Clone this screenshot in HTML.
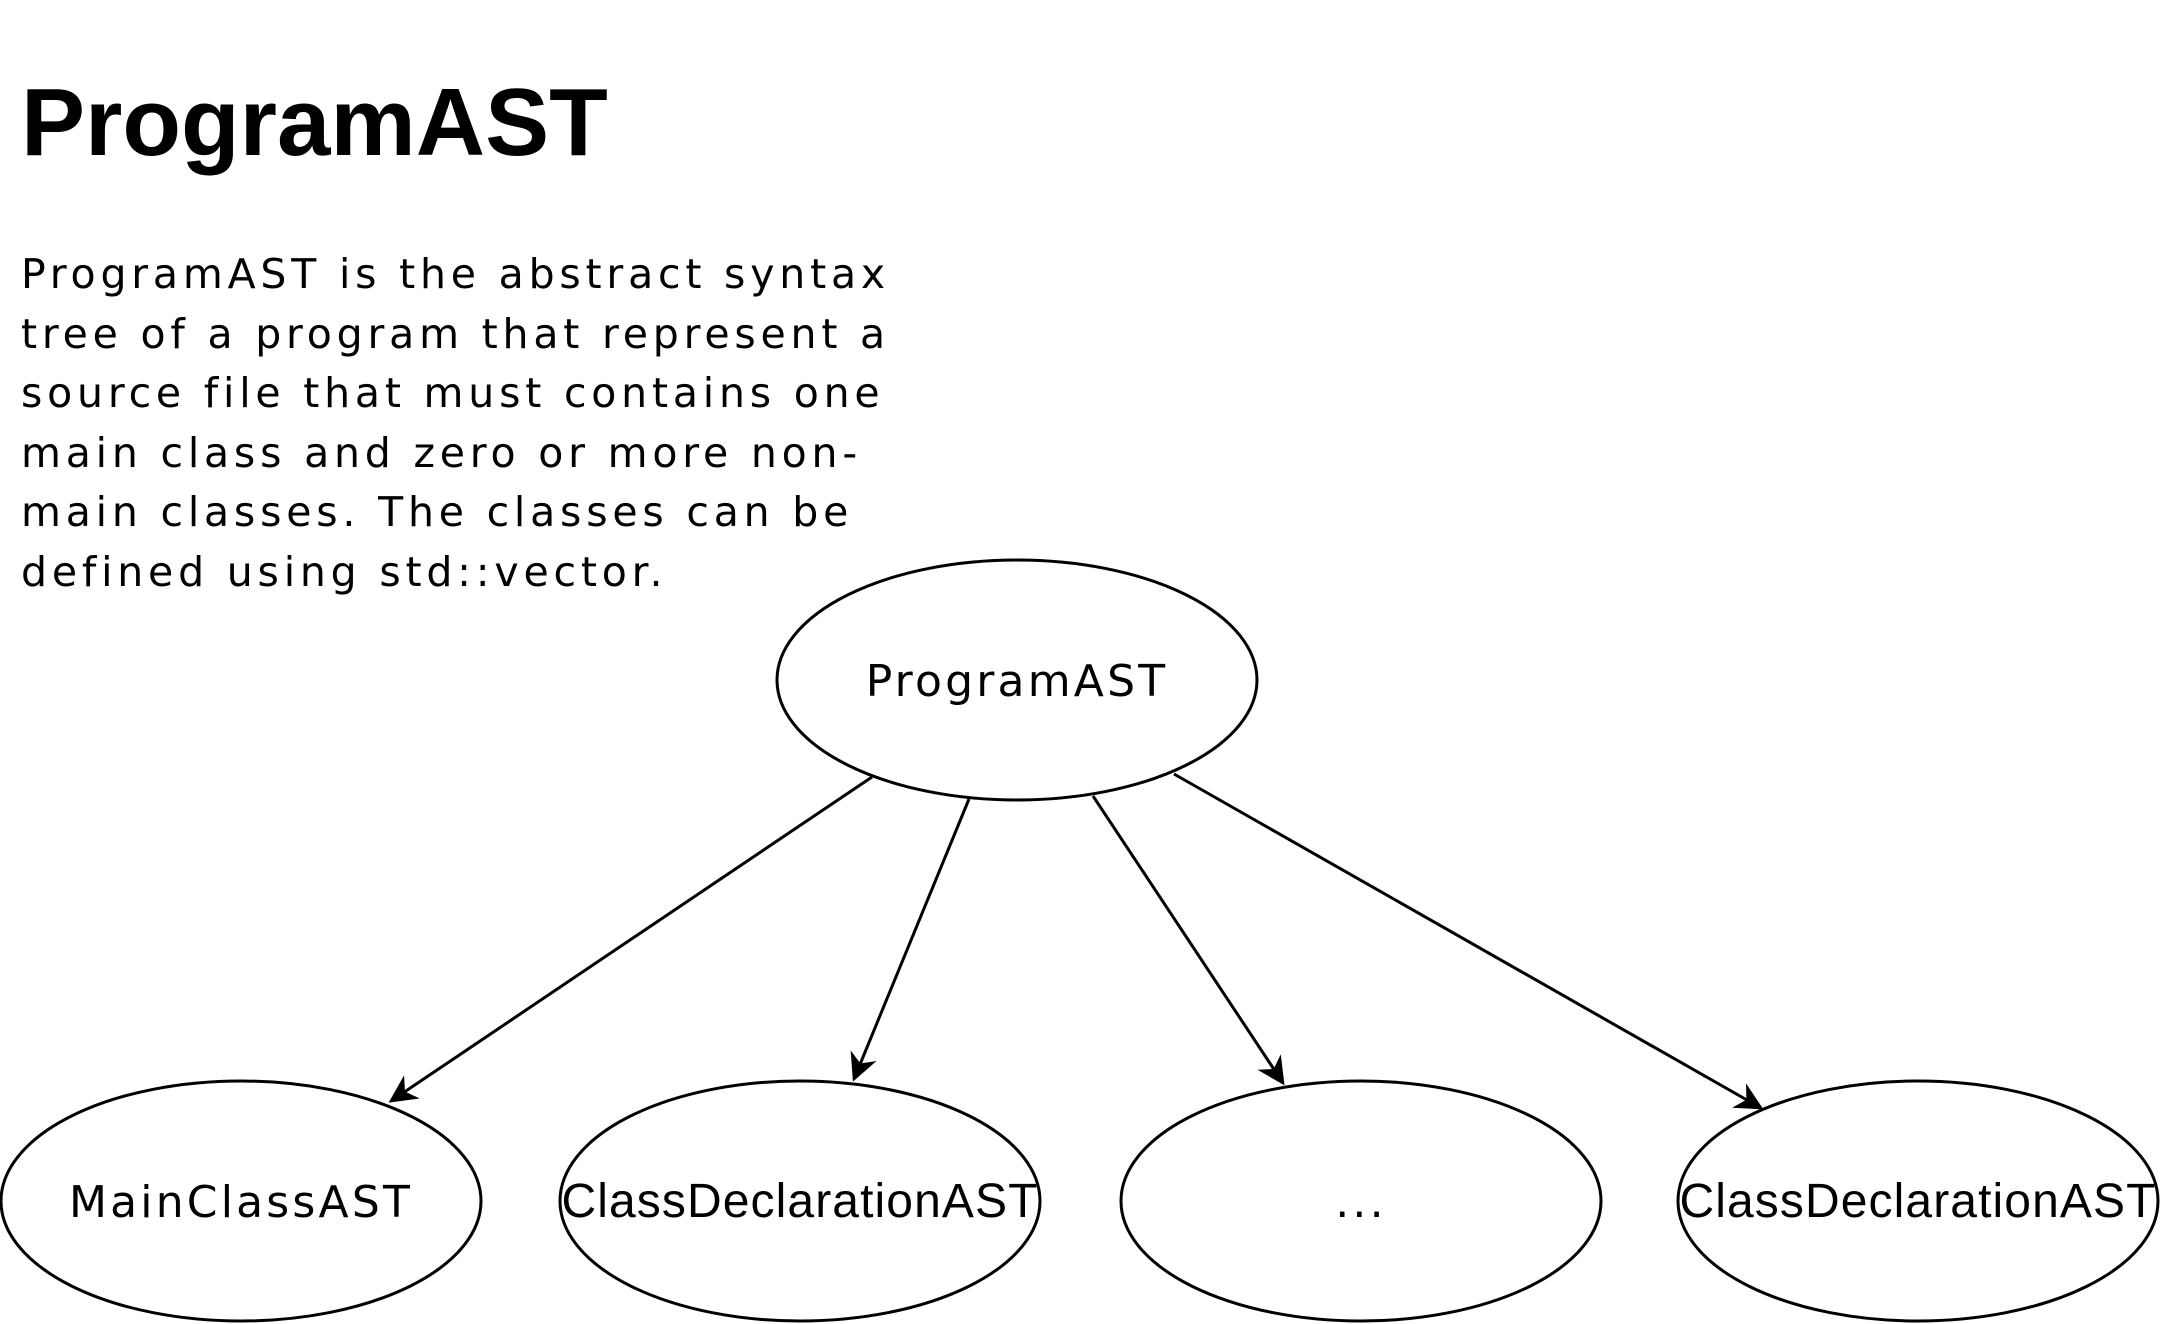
<!DOCTYPE html>
<html><head><meta charset="utf-8"><style>
html,body{margin:0;padding:0;background:#fff;}
body{width:2164px;height:1324px;overflow:hidden;position:relative;}
h1{position:absolute;left:21px;top:68px;margin:0;font:bold 96px "Liberation Sans",sans-serif;color:#000;}
p{position:absolute;left:21px;top:245px;margin:0;width:1000px;font:41px/59.6px "DejaVu Sans",sans-serif;color:#000;letter-spacing:4.8px;}
svg{position:absolute;left:0;top:0;}
</style></head><body>
<h1>ProgramAST</h1>
<p>ProgramAST is the abstract syntax<br>tree of a program that represent a<br>source file that must contains one<br>main class and zero or more non-<br>main classes. The classes can be<br>defined using std::vector.</p>
<svg width="2164" height="1324" viewBox="0 0 2164 1324">
<defs><marker id="a" markerWidth="28" markerHeight="28" refX="9" refY="5" orient="auto" markerUnits="userSpaceOnUse" viewBox="0 0 10 10"><path d="M0,0 L10,5 L0,10 L3,5 z" fill="#000"/></marker></defs>
<g fill="#fff" stroke="#000" stroke-width="3">
<ellipse cx="1017" cy="680" rx="240" ry="120"/>
<ellipse cx="241" cy="1201" rx="240" ry="120"/>
<ellipse cx="800" cy="1201" rx="240" ry="120"/>
<ellipse cx="1361" cy="1201" rx="240" ry="120"/>
<ellipse cx="1918" cy="1201" rx="240" ry="120"/>
</g>
<g stroke="#000" stroke-width="3">
<line x1="872" y1="777" x2="391" y2="1101" marker-end="url(#a)"/>
<line x1="969" y1="799" x2="854" y2="1079" marker-end="url(#a)"/>
<line x1="1093" y1="796" x2="1283" y2="1083" marker-end="url(#a)"/>
<line x1="1174" y1="774" x2="1761" y2="1108" marker-end="url(#a)"/>
</g>
<g font-family="DejaVu Sans, sans-serif" font-size="44" text-anchor="middle" letter-spacing="3.2">
<text x="1017" y="696">ProgramAST</text>
<text x="241" y="1217">MainClassAST</text>
<text x="1361" y="1217">...</text>
</g>
<g font-family="Liberation Sans, sans-serif" font-size="48" text-anchor="middle" letter-spacing="1.1">
<text x="800" y="1217">ClassDeclarationAST</text>
<text x="1918" y="1217">ClassDeclarationAST</text>
</g>
</svg>
</body></html>
